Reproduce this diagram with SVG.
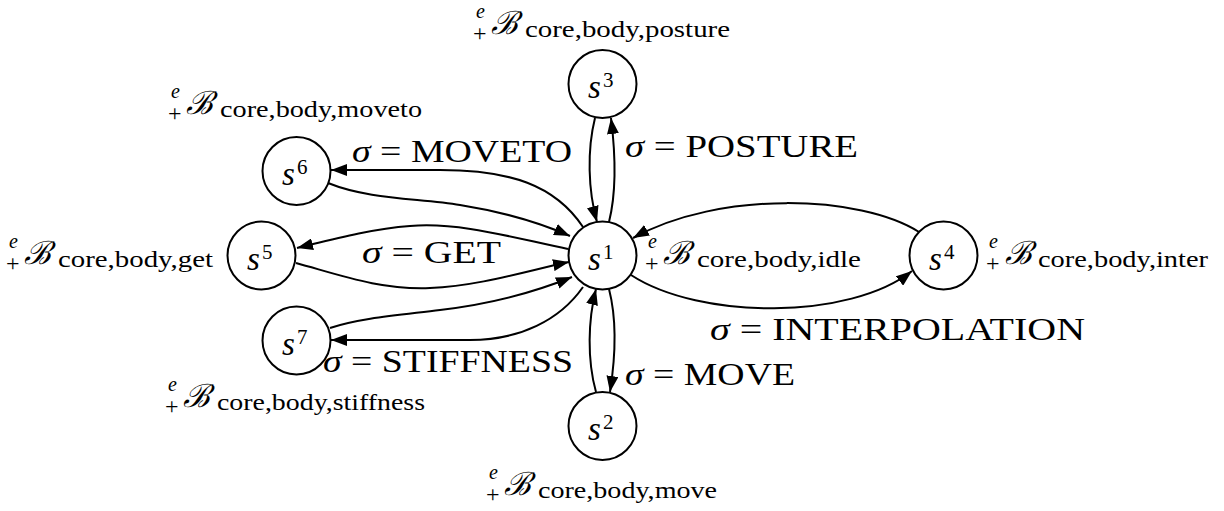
<svg xmlns="http://www.w3.org/2000/svg" width="1224" height="511" viewBox="0 0 1224 511">
<style>
.node circle{fill:#fff;stroke:#000;stroke-width:2}
.edge{fill:none;stroke:#000;stroke-width:2;marker-end:url(#arr)}
</style>
<defs>
<marker id="arr" viewBox="0 0 16 12" refX="16" refY="6" markerWidth="16" markerHeight="12" markerUnits="userSpaceOnUse" orient="auto"><path d="M0,0 L16,6 L0,12 z" fill="#000"/></marker>
</defs>
<g id="connectors">
<path class="edge" d="M595,118 C587,150 588,190 597,222"/>
<path class="edge" d="M609,222 C617,190 615,150 611,118"/>
<path class="edge" d="M609,289 C617,320 615,360 610,392"/>
<path class="edge" d="M596,392 C587,360 588,320 596,289"/>
<path class="edge" d="M919,232 C860,195 720,190 633,238"/>
<path class="edge" d="M631,275 C700,320 850,320 912,271"/>
<path class="edge" d="M583,227 C555,185 510,170 440,170 C400,170 360,170 331,170"/>
<path class="edge" d="M328,183 C370,200 420,198 460,205 C510,213 545,225 570,236"/>
<path class="edge" d="M568,249 C510,237 460,222 410,226 C370,229 330,240 297,248"/>
<path class="edge" d="M296,263 C340,275 380,290 430,288 C480,286 530,270 569,262"/>
<path class="edge" d="M330,328 C360,318 400,315 440,310 C500,303 540,290 572,277"/>
<path class="edge" d="M583,287 C560,320 520,340 470,340 C420,340 370,340 331,340"/>
</g>
<g id="edge-labels" font-family="Liberation Serif, DejaVu Serif, serif" font-size="32">
<text x="625" y="157" textLength="233" lengthAdjust="spacingAndGlyphs"><tspan font-style="italic">σ</tspan> = POSTURE</text>
<text x="352" y="162" textLength="220" lengthAdjust="spacingAndGlyphs"><tspan font-style="italic">σ</tspan> = MOVETO</text>
<text x="362" y="263" textLength="139" lengthAdjust="spacingAndGlyphs"><tspan font-style="italic">σ</tspan> = GET</text>
<text x="323" y="372" textLength="250" lengthAdjust="spacingAndGlyphs"><tspan font-style="italic">σ</tspan> = STIFFNESS</text>
<text x="625" y="385" textLength="170" lengthAdjust="spacingAndGlyphs"><tspan font-style="italic">σ</tspan> = MOVE</text>
<text x="710" y="340" textLength="375" lengthAdjust="spacingAndGlyphs"><tspan font-style="italic">σ</tspan> = INTERPOLATION</text>
</g>
<g font-family="Liberation Serif, DejaVu Serif, serif">
<g id="s1" class="node"><circle cx="602.5" cy="255.5" r="34"/><text font-style="italic" font-size="33" x="588" y="269.5">s</text><text font-size="21" x="603" y="258.5">1</text></g>
<g id="s2" class="node"><circle cx="602.5" cy="426" r="34"/><text font-style="italic" font-size="33" x="588" y="440">s</text><text font-size="21" x="603" y="429">2</text></g>
<g id="s3" class="node"><circle cx="602.5" cy="84" r="34"/><text font-style="italic" font-size="33" x="588" y="98">s</text><text font-size="21" x="603" y="87">3</text></g>
<g id="s4" class="node"><circle cx="943.5" cy="255.5" r="34"/><text font-style="italic" font-size="33" x="929" y="269.5">s</text><text font-size="21" x="944" y="258.5">4</text></g>
<g id="s5" class="node"><circle cx="261.5" cy="255.5" r="34"/><text font-style="italic" font-size="33" x="247" y="269.5">s</text><text font-size="21" x="262" y="258.5">5</text></g>
<g id="s6" class="node"><circle cx="296.5" cy="171" r="34"/><text font-style="italic" font-size="33" x="282" y="185">s</text><text font-size="21" x="297" y="174">6</text></g>
<g id="s7" class="node"><circle cx="296.5" cy="340.5" r="34"/><text font-style="italic" font-size="33" x="282" y="354.5">s</text><text font-size="21" x="297" y="343.5">7</text></g>
</g>
<g font-family="Liberation Serif, DejaVu Serif, serif">
<g id="ann-posture"><text font-style="italic" font-size="20" x="476" y="18">e</text><text font-size="24" x="473" y="41">+</text><text font-family="DejaVu Serif, serif" font-style="italic" font-size="32" x="491" y="34">ℬ</text><text font-size="24" x="525" y="37" textLength="205" lengthAdjust="spacingAndGlyphs">core,body,posture</text></g>
<g id="ann-moveto"><text font-style="italic" font-size="20" x="171" y="98">e</text><text font-size="24" x="168" y="121">+</text><text font-family="DejaVu Serif, serif" font-style="italic" font-size="32" x="186" y="114">ℬ</text><text font-size="24" x="220" y="117" textLength="202" lengthAdjust="spacingAndGlyphs">core,body,moveto</text></g>
<g id="ann-get"><text font-style="italic" font-size="20" x="9" y="248">e</text><text font-size="24" x="6" y="271">+</text><text font-family="DejaVu Serif, serif" font-style="italic" font-size="32" x="24" y="264">ℬ</text><text font-size="24" x="58" y="267" textLength="155" lengthAdjust="spacingAndGlyphs">core,body,get</text></g>
<g id="ann-stiffness"><text font-style="italic" font-size="20" x="168" y="391">e</text><text font-size="24" x="165" y="414">+</text><text font-family="DejaVu Serif, serif" font-style="italic" font-size="32" x="183" y="407">ℬ</text><text font-size="24" x="217" y="410" textLength="208" lengthAdjust="spacingAndGlyphs">core,body,stiffness</text></g>
<g id="ann-move"><text font-style="italic" font-size="20" x="489" y="479">e</text><text font-size="24" x="486" y="502">+</text><text font-family="DejaVu Serif, serif" font-style="italic" font-size="32" x="504" y="495">ℬ</text><text font-size="24" x="538" y="498" textLength="179" lengthAdjust="spacingAndGlyphs">core,body,move</text></g>
<g id="ann-idle"><text font-style="italic" font-size="20" x="648" y="248">e</text><text font-size="24" x="645" y="271">+</text><text font-family="DejaVu Serif, serif" font-style="italic" font-size="32" x="663" y="264">ℬ</text><text font-size="24" x="697" y="267" textLength="164" lengthAdjust="spacingAndGlyphs">core,body,idle</text></g>
<g id="ann-inter"><text font-style="italic" font-size="20" x="989" y="248">e</text><text font-size="24" x="986" y="271">+</text><text font-family="DejaVu Serif, serif" font-style="italic" font-size="32" x="1005" y="264">ℬ</text><text font-size="24" x="1038" y="267" textLength="170" lengthAdjust="spacingAndGlyphs">core,body,inter</text></g>
</g>
</svg>
